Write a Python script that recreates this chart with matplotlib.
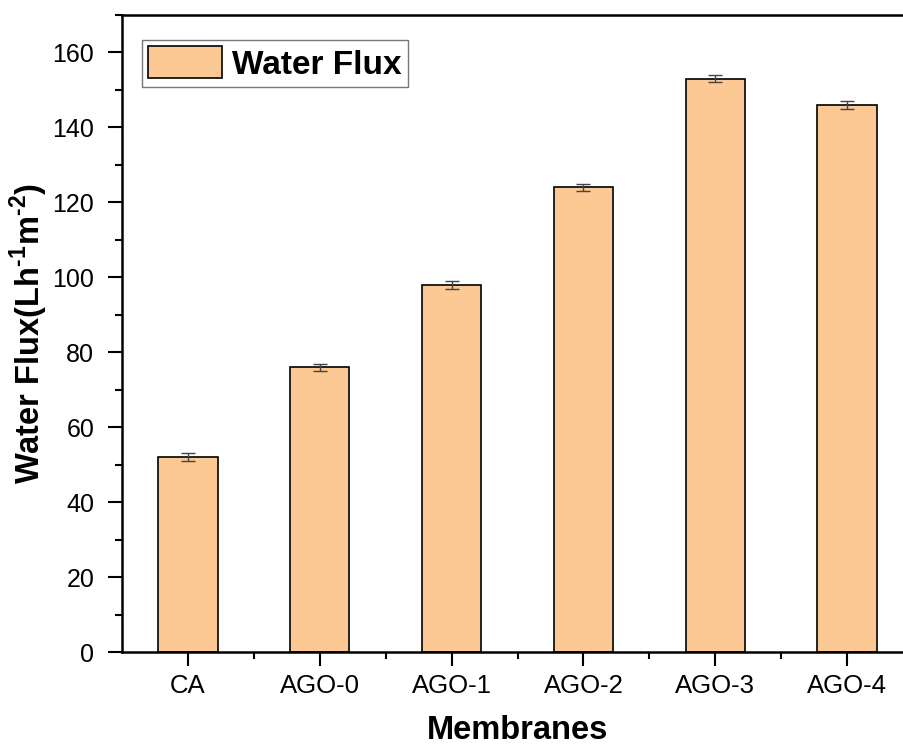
import numpy as np
import matplotlib
matplotlib.use('Agg')
import matplotlib.pyplot as plt
from matplotlib.ticker import MultipleLocator

plt.rcParams['font.family'] = ['Liberation Sans', 'DejaVu Sans']
plt.rcParams['mathtext.fontset'] = 'custom'
plt.rcParams['mathtext.rm'] = 'Liberation Sans'
plt.rcParams['mathtext.bf'] = 'Liberation Sans:bold'

membranes = ['CA', 'AGO-0', 'AGO-1', 'AGO-2', 'AGO-3', 'AGO-4']
flux = [52, 76, 98, 124, 153, 146]
flux_err = [1.0, 1.0, 1.0, 1.0, 1.0, 1.0]

fig = plt.figure(figsize=[9.04, 7.47], dpi=100)
ax = fig.add_axes([0.135, 0.127, 0.875, 0.853])

x = np.arange(1, len(membranes) + 1)
ax.bar(x, flux, width=0.45, color='#FCC894', edgecolor='black', linewidth=1.2,
       label='Water Flux', zorder=2)
ax.errorbar(x, flux, yerr=flux_err, fmt='none', ecolor='#444444',
            elinewidth=1, capsize=5, capthick=1, zorder=3)

ax.set_xlim(0.5, 6.5)
ax.set_ylim(0, 170)
ax.set_xticks(x)
ax.set_xticklabels(membranes)
ax.set_xticks(x + 0.5, minor=True)
ax.yaxis.set_major_locator(MultipleLocator(20))
ax.yaxis.set_minor_locator(MultipleLocator(10))

ax.tick_params(which='major', direction='out', length=10, width=1.5)
ax.tick_params(axis='x', which='major', labelsize=18.5, pad=6)
ax.tick_params(axis='y', which='major', labelsize=18, pad=10)
ax.tick_params(which='minor', direction='out', length=5, width=1.5)
for s in ax.spines.values():
    s.set_linewidth(1.8)

ax.set_xlabel('Membranes', fontsize=23.5, fontweight='bold', labelpad=12)
ax.set_ylabel('Water Flux(Lh$^{\\mathbf{\u20101}}$m$^{\\mathbf{\u20102}}$)',
              fontsize=23.5, fontweight='bold', labelpad=2)

leg = ax.legend(loc='upper left', bbox_to_anchor=(0.025, 0.961), fancybox=False,
                prop={'weight': 'bold', 'size': 24}, handlelength=2.2,
                handleheight=1.08, borderpad=0.2, handletextpad=0.3,
                borderaxespad=0)
leg.get_frame().set_edgecolor('#555555')
leg.get_frame().set_linewidth(1)

plt.savefig('out.png', dpi=100)
